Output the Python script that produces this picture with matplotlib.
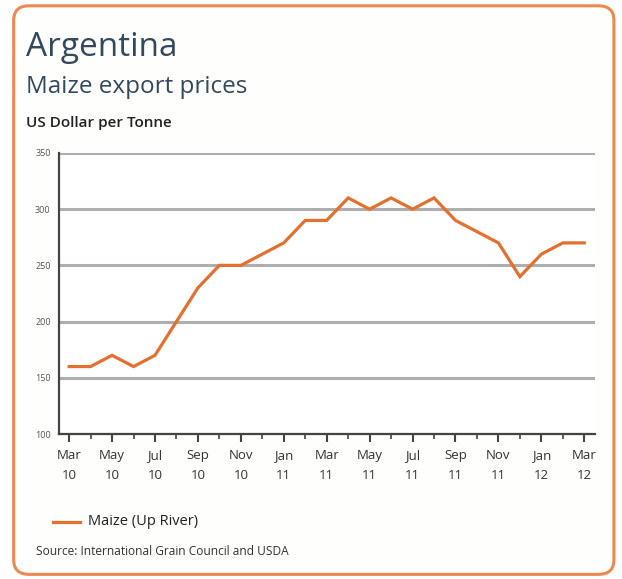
import matplotlib
matplotlib.use("Agg")
import matplotlib.pyplot as plt
from matplotlib.patches import FancyBboxPatch
from matplotlib.lines import Line2D

# --- Data ---
months = ["Mar 10", "Apr 10", "May 10", "Jun 10", "Jul 10", "Aug 10", "Sep 10", "Oct 10",
          "Nov 10", "Dec 10", "Jan 11", "Feb 11", "Mar 11", "Apr 11", "May 11", "Jun 11",
          "Jul 11", "Aug 11", "Sep 11", "Oct 11", "Nov 11", "Dec 11", "Jan 12", "Feb 12", "Mar 12"]
maize = [160, 160, 170, 160, 170, 200, 230, 250, 250, 260, 270, 290, 290, 310, 300, 310,
         300, 310, 290, 280, 270, 240, 260, 270, 270]
tick_labels = ["Mar\n10", "May\n10", "Jul\n10", "Sep\n10", "Nov\n10", "Jan\n11", "Mar\n11",
               "May\n11", "Jul\n11", "Sep\n11", "Nov\n11", "Jan\n12", "Mar\n12"]
y_ticks = [100, 150, 200, 250, 300, 350]

orange = "#E2702F"
title_col = "#33495E"
plt.rcParams['font.family'] = ['Open Sans', 'DejaVu Sans']

fig = plt.figure(figsize=(6.22, 5.79), dpi=100)
fig.patch.set_facecolor("white")

# --- Frame ---
frame = FancyBboxPatch((0.022, 0.008), 0.965, 0.982, boxstyle="round,pad=0,rounding_size=0.025",
                       transform=fig.transFigure, facecolor="#FEFEFC", edgecolor="#EC8850",
                       linewidth=2.2, zorder=-5)
fig.patches.append(frame)

fig.text(0.041, 0.903, "Argentina", fontsize=24, color=title_col)
fig.text(0.041, 0.840, "Maize export prices", fontsize=17.5, color=title_col)
fig.text(0.041, 0.780, "US Dollar per Tonne", fontsize=11, color="#222222", fontweight="semibold")

# --- Plot ---
ax = fig.add_axes([0.0949, 0.2504, 0.8617, 0.4854])
ax.set_facecolor("white")
x = list(range(len(maize)))
ax.plot(x, maize, color=orange, linewidth=2.3, zorder=3, solid_joinstyle="miter")

ax.set_ylim(100, 350)
ax.set_xlim(-0.47, 24.5)
ax.set_yticks(y_ticks)
ax.set_yticklabels([str(v) for v in y_ticks], fontsize=6.5, color="#555555")
ax.set_xticks(x[::2])
ax.set_xticks(x[1::2], minor=True)
ax.set_xticklabels(tick_labels, fontsize=9.5, color="#333333", linespacing=1.7)
ax.tick_params(axis="x", which="major", direction="out", length=6, width=1.5, color="#444444", pad=5)
ax.tick_params(axis="x", which="minor", direction="out", length=3.5, width=1.2, color="#444444")
ax.tick_params(axis="y", length=0, pad=6)

ax.grid(axis="y", color="#AEAEAE", linewidth=2.2, zorder=1)
ax.set_axisbelow(True)
for side in ["top", "right"]:
    ax.spines[side].set_visible(False)
ax.spines["left"].set_color("#444444")
ax.spines["left"].set_linewidth(1.6)
ax.spines["bottom"].set_color("#444444")
ax.spines["bottom"].set_linewidth(1.6)

# --- Legend & source ---
fig.add_artist(Line2D([0.085, 0.129], [0.099, 0.099], transform=fig.transFigure,
                      color=orange, linewidth=2.3))
fig.text(0.141, 0.099, "Maize (Up River)", fontsize=10.5, color="#222222", va="center")
fig.text(0.058, 0.047, "Source: International Grain Council and USDA", fontsize=8.6,
         color="#333333", va="center")

fig.savefig("out.png", dpi=100)
